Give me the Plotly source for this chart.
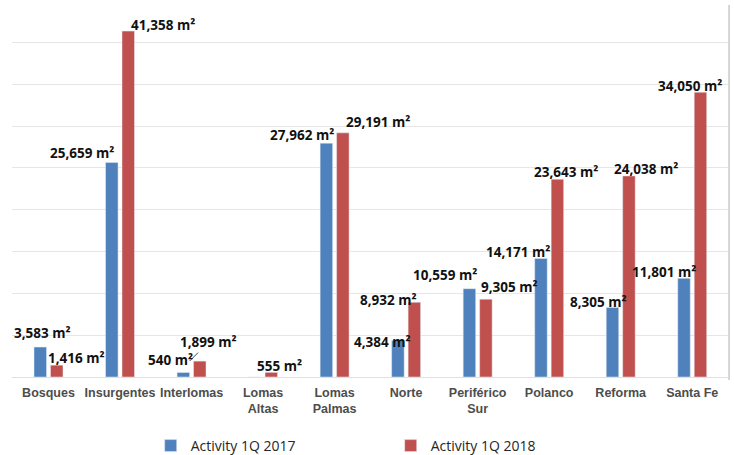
import plotly.graph_objects as go

categories = ["Bosques", "Insurgentes", "Interlomas", "Lomas<br>Altas", "Lomas<br>Palmas",
              "Norte", "Periférico<br>Sur", "Polanco", "Reforma", "Santa Fe"]
activity_2017 = [3583, 25659, 540, 0, 27962, 4384, 10559, 14171, 8305, 11801]
activity_2018 = [1416, 41358, 1899, 555, 29191, 8932, 9305, 23643, 24038, 34050]
y_ticks = [0, 5000, 10000, 15000, 20000, 25000, 30000, 35000, 40000]

# label offsets (px) relative to category centre / bar top
off_2017 = [(-6, 14), (-38, 9), (-21, 12.5), None, (-33, 8), (-24, -2), (-33, 14), (-31, 6.5), (-22, 5.5), (-28, 6)]
off_2018 = [(28, 7), (43, 6.5), None, (16, 6), (43, 11), (-18, 2), (32, 12), (17, 7), (25, 7), (-2, 6)]

BLUE = "#4F81BD"
RED = "#C0504D"

fig = go.Figure()
fig.add_bar(x=categories, y=activity_2017, name="Activity 1Q 2017", marker_color=BLUE)
fig.add_bar(x=categories, y=activity_2018, name="Activity 1Q 2018", marker_color=RED)

lab_font = dict(family="Open Sans", size=13.5, color="#111111", weight="bold")

def fmt(v):
    return f"{v:,} m²"

for i, (c, v) in enumerate(zip(categories, activity_2017)):
    o = off_2017[i]
    if o is None or v == 0:
        continue
    fig.add_annotation(x=c, y=v, text=fmt(v), showarrow=False, xshift=o[0], yshift=o[1],
                       yanchor="middle", xanchor="center", font=lab_font)

for i, (c, v) in enumerate(zip(categories, activity_2018)):
    o = off_2018[i]
    if o is None:
        # leader-line label (Interlomas)
        fig.add_annotation(x=c, y=v, text=fmt(v), showarrow=True, arrowhead=0, arrowwidth=1,
                           arrowcolor="#404040", ax=19, ay=-19, xshift=-2, font=lab_font,
                           standoff=0)
        continue
    fig.add_annotation(x=c, y=v, text=fmt(v), showarrow=False, xshift=o[0], yshift=o[1],
                       yanchor="middle", xanchor="center", font=lab_font)

# right chart border
fig.add_shape(type="line", xref="paper", yref="paper", x0=1.0015, x1=1.0015, y0=-0.008, y1=1.011,
              line=dict(color="#c8c8c8", width=1.5))

fig.update_layout(
    width=734, height=455,
    margin=dict(l=12, r=6, t=9, b=78, autoexpand=False),
    plot_bgcolor="white", paper_bgcolor="white",
    barmode="group", bargap=0.54, bargroupgap=0.24,
    showlegend=True,
    legend=dict(orientation="h", x=0.1937, xanchor="left", y=-0.1875, yanchor="middle",
                font=dict(family="Open Sans", size=14, color="#262626"),
                entrywidth=195, itemwidth=30),
    xaxis=dict(tickfont=dict(family="Liberation Sans", size=12.5, color="#4d4d4d", weight="bold"),
               showline=False, ticks="", ticklabelstandoff=6, automargin=False),
    yaxis=dict(range=[0, 44000], tickvals=y_ticks, showticklabels=False,
               showgrid=True, gridcolor="#e6e6e6", gridwidth=1.3,
               zeroline=True, zerolinecolor="#e0e0e0", zerolinewidth=1.3),
)

fig.write_html("out.html")
